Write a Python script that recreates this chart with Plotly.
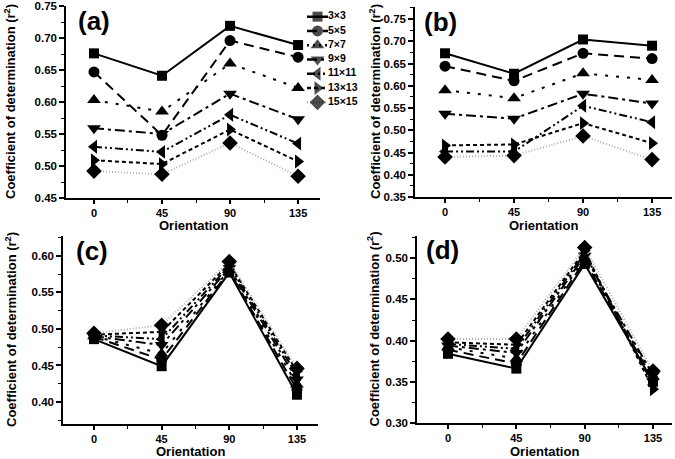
import plotly.graph_objects as go

# ---------------- data ----------------
orientation = [0, 45, 90, 135]
window_labels = ["3×3", "5×5", "7×7", "9×9", "11×11", "13×13", "15×15"]
x_ticks = [0, 45, 90, 135]

# rows: 3x3, 5x5, 7x7, 9x9, 11x11, 13x13, 15x15 ; columns: orientation 0,45,90,135
panel_a = [
    [0.676, 0.641, 0.719, 0.689],
    [0.647, 0.548, 0.696, 0.670],
    [0.603, 0.585, 0.660, 0.622],
    [0.559, 0.550, 0.613, 0.573],
    [0.530, 0.522, 0.580, 0.535],
    [0.509, 0.503, 0.557, 0.507],
    [0.492, 0.487, 0.536, 0.484],
]
panel_b = [
    [0.673, 0.627, 0.704, 0.690],
    [0.644, 0.611, 0.673, 0.661],
    [0.590, 0.572, 0.628, 0.613],
    [0.537, 0.526, 0.582, 0.560],
    [0.452, 0.452, 0.555, 0.518],
    [0.466, 0.468, 0.516, 0.471],
    [0.440, 0.443, 0.487, 0.434],
]
panel_c = [
    [0.486, 0.449, 0.577, 0.410],
    [0.489, 0.458, 0.579, 0.417],
    [0.490, 0.466, 0.581, 0.424],
    [0.490, 0.478, 0.583, 0.431],
    [0.491, 0.486, 0.586, 0.437],
    [0.492, 0.496, 0.589, 0.442],
    [0.494, 0.505, 0.592, 0.446],
]
panel_d = [
    [0.384, 0.366, 0.493, 0.350],
    [0.389, 0.372, 0.497, 0.353],
    [0.392, 0.378, 0.500, 0.356],
    [0.394, 0.385, 0.503, 0.358],
    [0.396, 0.390, 0.506, 0.346],
    [0.398, 0.395, 0.509, 0.341],
    [0.402, 0.402, 0.513, 0.363],
]
panel_names = ["(a)", "(b)", "(c)", "(d)"]
x_title = "Orientation"
y_title = "Coefficient of determination (r<sup>2</sup>)"

# ---------------- styles ----------------
FONT = "Liberation Sans, Arial, sans-serif"
symbols = ["square", "circle", "triangle-up", "triangle-down",
           "triangle-left", "triangle-right", "diamond"]
msizes = [10, 11, 12, 12, 12, 12, 12]
dashes = ["solid", "10px,6px", "3px,8px", "10px,4px,3px,4px",
          "8px,3px,2px,3px,2px,3px", "4px,3px", "1px,2px"]
lcolors = ["black"] * 6 + ["#b0b0b0"]

panels = [panel_a, panel_b, panel_c, panel_d]
W, H = 675, 459
# pixel boxes of each plot area: (left, right, top, bottom)
boxes = [(66, 320, 6, 198), (415, 672, 7, 197), (63, 318, 236, 424), (417, 672, 236, 423)]
xranges = [[-18.5, 149.5], [-19.6, 148], [-20.6, 149], [-20.4, 147.5]]
yranges = [[0.45, 0.75], [0.35, 0.777], [0.37, 0.627], [0.30, 0.527]]
ytick0 = [0.45, 0.35, 0.40, 0.30]
ytitle_x = [10, 375, 11, 373]
xtitle_y = [225, 225, 451, 451]
label_pos = [(76, 21), (422, 22), (74, 251), (424, 250)]

fig = go.Figure()
for p, data in enumerate(panels):
    xa = "x" if p == 0 else f"x{p+1}"
    ya = "y" if p == 0 else f"y{p+1}"
    for i, vals in enumerate(data):
        fig.add_trace(go.Scatter(
            x=orientation, y=vals, mode="lines+markers",
            name=window_labels[i], xaxis=xa, yaxis=ya, showlegend=False,
            line=dict(color=lcolors[i], width=2, dash=dashes[i]),
            marker=dict(symbol=symbols[i], size=msizes[i], color="black",
                        line=dict(width=0)),
        ))

# ---- hand-built legend on a hidden axis pair (x5/y5) ----
for i, lab in enumerate(window_labels):
    fig.add_trace(go.Scatter(
        x=[0, 0.5, 1], y=[lab, lab, lab], mode="lines+markers",
        xaxis="x5", yaxis="y5", showlegend=False, hoverinfo="skip", cliponaxis=False,
        line=dict(color=lcolors[i], width=2.5, dash=dashes[i] if i != 2 else "2px,4px"),
        marker=dict(symbol=symbols[i], size=[0, msizes[i], 0], color="black",
                    line=dict(width=0)),
    ))
fig.add_trace(go.Scatter(
    x=[1] * len(window_labels), y=window_labels, text=window_labels,
    mode="text", textposition="middle right", xaxis="x5", yaxis="y5",
    showlegend=False, hoverinfo="skip", cliponaxis=False,
    textfont=dict(size=10.5, family=FONT, weight="bold", color="black"),
))

layout = dict(
    width=W, height=H, paper_bgcolor="white", plot_bgcolor="rgba(0,0,0,0)",
    margin=dict(l=0, r=0, t=0, b=0, autoexpand=False),
    font=dict(family=FONT, color="black", size=11),
    showlegend=False,
    xaxis5=dict(domain=[307 / W, 328 / W], range=[0, 1], visible=False,
                anchor="y5", fixedrange=True),
    yaxis5=dict(domain=[1 - 109.5 / H, 1 - 9.5 / H], range=[6.5, -0.5], visible=False,
                anchor="x5", type="category", categoryorder="array",
                categoryarray=window_labels, fixedrange=True),
)
annotations = []
for p in range(4):
    l, r, t, b = boxes[p]
    xk = "xaxis" if p == 0 else f"xaxis{p+1}"
    yk = "yaxis" if p == 0 else f"yaxis{p+1}"
    ya = "y" if p == 0 else f"y{p+1}"
    xa = "x" if p == 0 else f"x{p+1}"
    layout[xk] = dict(
        domain=[l / W, r / W], anchor=ya, range=xranges[p], automargin=False,
        tickmode="array", tickvals=x_ticks, ticktext=[str(v) for v in x_ticks],
        ticks="outside", ticklen=4, tickwidth=1.5, tickcolor="black",
        minor=dict(ticks="outside", ticklen=3, tickwidth=1, tickcolor="black",
                   tickmode="array", tickvals=[22.5, 67.5, 112.5]),
        showline=True, linecolor="black", linewidth=1.5, mirror=False,
        showgrid=False, zeroline=False,
        tickfont=dict(size=11, family=FONT, weight="bold"),
    )
    layout[yk] = dict(
        domain=[1 - b / H, 1 - t / H], anchor=xa, range=yranges[p], automargin=False,
        tick0=ytick0[p], dtick=0.05, tickformat=".2f",
        ticks="outside", ticklen=5, tickwidth=1.5, tickcolor="black",
        minor=dict(ticks="outside", ticklen=3, tickwidth=1, tickcolor="black",
                   dtick=0.025),
        showline=True, linecolor="black", linewidth=1.5, mirror=False,
        showgrid=False, zeroline=False,
        tickfont=dict(size=11.5, family=FONT, weight="bold"),
    )
    lx, ly = label_pos[p]
    annotations.append(dict(
        text=panel_names[p], xref="paper", yref="paper",
        x=lx / W, y=1 - ly / H, xanchor="left", yanchor="middle",
        showarrow=False, font=dict(size=26, family=FONT, weight="bold", color="black"),
    ))
    annotations.append(dict(
        text=x_title, xref="paper", yref="paper",
        x=(l + r) / 2 / W, y=1 - xtitle_y[p] / H, xanchor="center", yanchor="middle",
        showarrow=False, font=dict(size=13, family=FONT, weight="bold", color="black"),
    ))
    annotations.append(dict(
        text=y_title, xref="paper", yref="paper", textangle=-90,
        x=ytitle_x[p] / W, y=1 - (t + b) / 2 / H, xanchor="center", yanchor="middle",
        showarrow=False, font=dict(size=13, family=FONT, weight="bold", color="black"),
    ))
layout["annotations"] = annotations
fig.update_layout(**layout)

fig.write_html(
    "out.html",
    config={"displayModeBar": False},
    post_script="document.body.style.margin='0';document.body.style.overflow='hidden';",
)
